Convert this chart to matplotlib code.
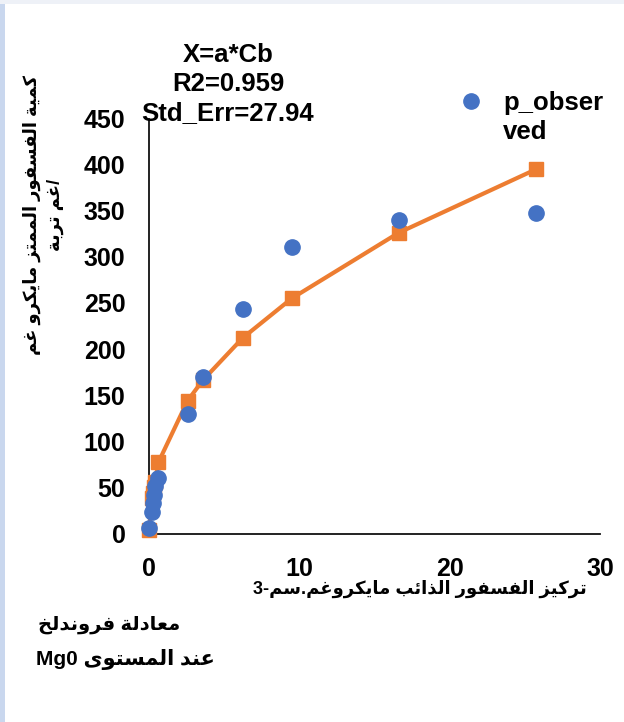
import matplotlib
matplotlib.use("Agg")
import matplotlib.pyplot as plt
from matplotlib.patches import Rectangle
from matplotlib.lines import Line2D

# dissolved P (ug/cm3) and adsorbed P (ug/g soil)
conc = [0, 0.22, 0.25, 0.33, 0.4, 0.62, 2.57, 3.57, 6.23, 9.5, 16.6, 25.75]
p_observed = [6, 23, 33, 42, 51, 60, 130, 170, 243, 311, 340, 348]
p_fitted = [4, 38, 44, 50, 56, 77, 144, 166, 212, 255, 326, 395]

x_ticks = [0, 10, 20, 30]
y_ticks = [0, 50, 100, 150, 200, 250, 300, 350, 400, 450]

fit_text = "X=a*Cb\nR2=0.959\nStd_Err=27.94"
legend_lines = ["p_obser", "ved"]
xlabel_ar = "تركيز الفسفور الذائب مايكروغم.سم-3"
ylabel_ar = ["كمية الفسفور الممتز مايكرو غم", "/غم تربة"]
note_ar = ["معادلة فروندلخ", "عند المستوى Mg0"]

BLUE = "#4472C4"
ORANGE = "#ED7D31"
LATIN = ["Liberation Sans", "DejaVu Sans"]

# isolated, final, initial, medial presentation forms
FORMS = {
    "ا": ("\uFE8D", "\uFE8E", None, None),
    "ب": ("\uFE8F", "\uFE90", "\uFE91", "\uFE92"),
    "ة": ("\uFE93", "\uFE94", None, None),
    "ت": ("\uFE95", "\uFE96", "\uFE97", "\uFE98"),
    "ئ": ("\uFE89", "\uFE8A", "\uFE8B", "\uFE8C"),
    "خ": ("\uFEA5", "\uFEA6", "\uFEA7", "\uFEA8"),
    "د": ("\uFEA9", "\uFEAA", None, None),
    "ذ": ("\uFEAB", "\uFEAC", None, None),
    "ر": ("\uFEAD", "\uFEAE", None, None),
    "ز": ("\uFEAF", "\uFEB0", None, None),
    "س": ("\uFEB1", "\uFEB2", "\uFEB3", "\uFEB4"),
    "ع": ("\uFEC9", "\uFECA", "\uFECB", "\uFECC"),
    "غ": ("\uFECD", "\uFECE", "\uFECF", "\uFED0"),
    "ف": ("\uFED1", "\uFED2", "\uFED3", "\uFED4"),
    "ك": ("\uFED9", "\uFEDA", "\uFEDB", "\uFEDC"),
    "ل": ("\uFEDD", "\uFEDE", "\uFEDF", "\uFEE0"),
    "م": ("\uFEE1", "\uFEE2", "\uFEE3", "\uFEE4"),
    "ن": ("\uFEE5", "\uFEE6", "\uFEE7", "\uFEE8"),
    "و": ("\uFEED", "\uFEEE", None, None),
    "ى": ("\uFEEF", "\uFEF0", None, None),
    "ي": ("\uFEF1", "\uFEF2", "\uFEF3", "\uFEF4"),
}


def shape(s):
    out = []
    for i, ch in enumerate(s):
        if ch not in FORMS:
            out.append(ch)
            continue
        prev = s[i - 1] if i > 0 else ""
        nxt = s[i + 1] if i + 1 < len(s) else ""
        j_prev = prev in FORMS and FORMS[prev][2] is not None
        j_next = FORMS[ch][2] is not None and nxt in FORMS
        iso, fin, ini, med = FORMS[ch]
        if j_prev and j_next:
            out.append(med)
        elif j_prev:
            out.append(fin)
        elif j_next:
            out.append(ini)
        else:
            out.append(iso)
    # right-to-left: reverse, keeping latin/digit runs in order
    tokens = []
    for ch in "".join(out):
        if ch.isascii() and ch.isalnum() and tokens and tokens[-1].isascii() and tokens[-1].isalnum():
            tokens[-1] += ch
        else:
            tokens.append(ch)
    return "".join(reversed(tokens))


W, H = 624, 722
fig = plt.figure(figsize=(W / 100, H / 100), dpi=100)
fig.patch.set_facecolor("white")

# thin frame strips along the left and top edges
fig.add_artist(Rectangle((0, 0), 5 / W, 1, transform=fig.transFigure,
                         facecolor="#c9d7ee", edgecolor="none"))
fig.add_artist(Rectangle((0, 1 - 4 / H), 1, 4 / H, transform=fig.transFigure,
                         facecolor="#eef1f7", edgecolor="none"))

ax = fig.add_axes([149 / W, (H - 533.5) / H, 451 / W, 415 / H])
ax.set_xlim(0, 30)
ax.set_ylim(0, 450)

ax.plot(conc, p_fitted, color=ORANGE, lw=3, marker="s", ms=10.5,
        mec=ORANGE, mfc=ORANGE, zorder=3, clip_on=False)
ax.plot(conc, p_observed, ls="none", marker="o", ms=11, color=BLUE,
        zorder=4, clip_on=False)

for side in ["top", "right"]:
    ax.spines[side].set_visible(False)
for side in ["left", "bottom"]:
    ax.spines[side].set_linewidth(1.3)
    ax.spines[side].set_color("#111111")

ax.set_xticks(x_ticks)
ax.set_yticks(y_ticks)
ax.tick_params(axis="both", length=0, labelsize=18)
ax.tick_params(axis="y", pad=17)
ax.tick_params(axis="x", pad=17)
for lab in ax.get_xticklabels() + ax.get_yticklabels():
    lab.set_family(LATIN)
    lab.set_fontweight("bold")

# fit summary
fig.text(228 / W, 1 - 84 / H, fit_text, ha="center", va="center",
         fontsize=18.5, fontweight="bold", family=LATIN, linespacing=1.24)

# legend entry for the observed series
fig.add_artist(Line2D([471 / W], [1 - 101 / H], transform=fig.transFigure,
                      marker="o", ms=11, color=BLUE, ls="none"))
fig.text(503 / W, 1 - 110 / H, legend_lines[0], ha="left", va="baseline",
         fontsize=18.5, fontweight="bold", family=LATIN)
fig.text(503 / W, 1 - 139 / H, legend_lines[1], ha="left", va="baseline",
         fontsize=18.5, fontweight="bold", family=LATIN)

# axis titles
fig.text(420 / W, 1 - 589 / H, shape(xlabel_ar), ha="center", va="center",
         fontsize=13, fontweight="bold", family=LATIN)
fig.text(43 / W, 1 - 215 / H, "\n".join(shape(t) for t in ylabel_ar),
         ha="center", va="center", rotation=90, multialignment="center",
         fontsize=13, fontweight="bold", family=LATIN, linespacing=1.45)

# equation note
fig.text(180 / W, 1 - 625 / H, shape(note_ar[0]), ha="right", va="center",
         fontsize=14, fontweight="bold", family=LATIN)
fig.text(215 / W, 1 - 660 / H, shape(note_ar[1]), ha="right", va="center",
         fontsize=15, fontweight="bold", family=LATIN)

fig.savefig("out.png", dpi=100)
